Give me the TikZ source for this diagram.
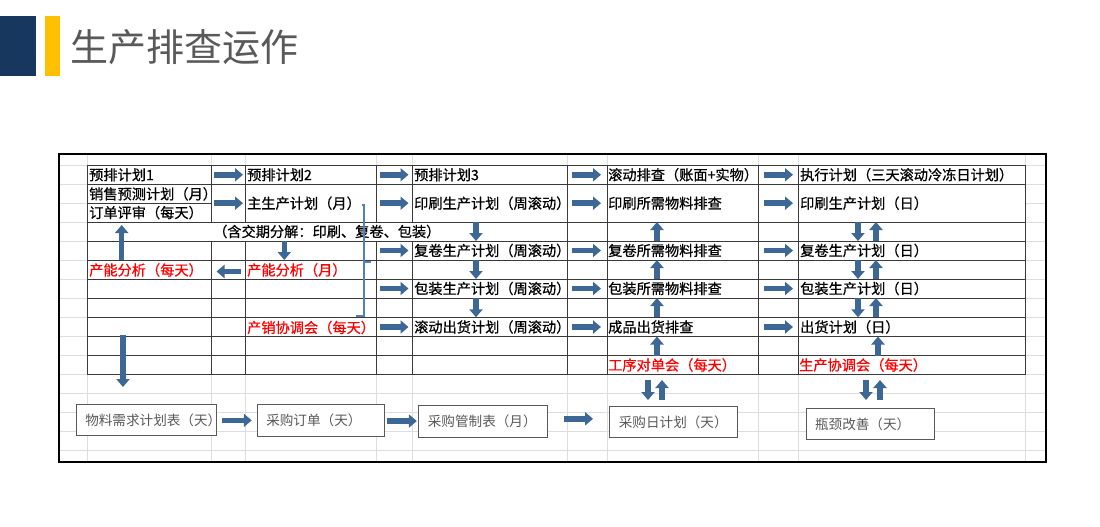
\documentclass[tikz,border=0pt]{standalone}
\usepackage{fontspec}
\setmainfont{Noto Sans CJK SC}
\newfontfamily\tabcjk[FakeBold=0.7]{Noto Sans CJK SC}
\usetikzlibrary{arrows.meta,calc}
\definecolor{navy}{HTML}{17375E}
\definecolor{gold}{HTML}{FFC000}
\definecolor{titlegray}{HTML}{595959}
\definecolor{ablue}{HTML}{3D6896}
\definecolor{bracketblue}{HTML}{4F81BD}
\definecolor{gridgray}{HTML}{DDDDDD}
\definecolor{linedark}{HTML}{3A3A3A}
\definecolor{boxgray}{HTML}{595959}
\newcommand\tabfont{\tabcjk\fontsize{14.2}{16}\selectfont}
\newcommand\boxfont{\fontsize{13.6}{15}\selectfont}
\tikzset{
  gridline/.style={draw=gridgray, line width=0.8pt},
  tabline/.style={draw=linedark, line width=1pt},
  cell/.style={anchor=west, inner sep=0pt, font=\tabfont, text=black},
  redcell/.style={cell, text=red},
  barrow/.style={draw=ablue, line width=5.5pt, -{Triangle[width=13pt,length=8pt]}},
  flowbox/.style={draw=boxgray, line width=1.1pt, fill=white, anchor=north west, inner xsep=9pt, inner ysep=0pt, align=left, font=\boxfont, text=boxgray},
  bracket/.style={draw=bracketblue, line width=2pt}
}
\begin{document}
\begin{tikzpicture}[x=1pt,y=-1pt]
\useasboundingbox (0,0) rectangle (1100,527);
\fill[white] (0,0) rectangle (1100,527);
% title
\fill[navy] (0,16) rectangle (36,76);
\fill[gold] (45,16) rectangle (60,76);
\node[anchor=west, inner sep=0pt, font=\fontsize{38}{42}\selectfont, text=titlegray] (title) at (70,47) {生产排查运作};
% named rows / columns
\foreach \n/\y in {r0/165,r1/184.5,r1b/203.3,r2/222,r3/241,r4/260,r5/279,r6/298,r7/317.3,r8/336.5,r9/355.5,r10/374.5}
  \coordinate (\n) at (0,\y);
\foreach \n/\x in {c0/87,c1/211,c2/245,c3/376,c4/412,c5/567,c6/607,c7/758,c8/798,c9/1025}
  \coordinate (\n) at (\x,0);
\foreach \n/\x in {g1/228.5,g2/394,g3/586.5,g4/778.5}
  \coordinate (\n) at (\x,0);
% light spreadsheet grid
\foreach \x in {87,211,245,376,412,567,607,758,798,1025}
  \draw[gridline] (\x,154) -- (\x,462);
\foreach \y in {165,184.5,203.3,222,241,260,279,298,317.3,336.5,355.5,374.5,393.5,412.5,431.5,450.5}
  \draw[gridline] (59,\y) -- (1046,\y);
\fill[white] (c0 |- r0) rectangle (c9 |- r10);
% table lines
\foreach \r in {r0,r1,r2,r3,r4,r5,r6,r7,r8,r9,r10}
  \draw[tabline] (c0 |- \r) -- (c9 |- \r);
\draw[tabline] (c0 |- r1b) -- (c1 |- r1b);
\foreach \c in {c0,c5,c6,c7,c8,c9}
  \draw[tabline] (\c |- r0) -- (\c |- r10);
\foreach \c in {c1,c2,c3,c4}{
  \draw[tabline] (\c |- r0) -- (\c |- r2);
  \draw[tabline] (\c |- r3) -- (\c |- r10);
}
% outer frame
\draw[black, line width=2.6pt] (59,154) rectangle (1046,462);
% cells
\node[cell] (p1) at (89,174.75) {预排计划1};
\node[cell] (p2) at (247,174.75) {预排计划2};
\node[cell] (p3) at (414,174.75) {预排计划3};
\node[cell] (gd) at (608,174.75) {滚动排查（账面+实物）};
\node[cell] (zx) at (800,174.75) {执行计划（三天滚动冷冻日计划）};
\node[cell] (xs) at (89,193.9) {销售预测计划（月）};
\node[cell] (dd) at (89,212.6) {订单评审（每天）};
\node[cell] (zsc) at (247,203.2) {主生产计划（月）};
\node[cell] (ys) at (414,203.2) {印刷生产计划（周滚动）};
\node[cell] (yswl) at (608,203.2) {印刷所需物料排查};
\node[cell] (ysr) at (800,203.2) {印刷生产计划（日）};
\node[cell] (hj) at (213,231.5) {（含交期分解：印刷、复卷、包装）};
\node[cell] (fj) at (414,250.5) {复卷生产计划（周滚动）};
\node[cell] (fjwl) at (608,250.5) {复卷所需物料排查};
\node[cell] (fjr) at (800,250.5) {复卷生产计划（日）};
\node[redcell] (cnd) at (89,270) {产能分析（每天）};
\node[redcell] (cnm) at (247,270) {产能分析（月）};
\node[cell] (bz) at (414,288.5) {包装生产计划（周滚动）};
\node[cell] (bzwl) at (608,288.5) {包装所需物料排查};
\node[cell] (bzr) at (800,288.5) {包装生产计划（日）};
\node[redcell] (cx) at (247,327.5) {产销协调会（每天）};
\node[cell] (gdch) at (414,327) {滚动出货计划（周滚动）};
\node[cell] (cpch) at (608,327) {成品出货排查};
\node[cell] (chr) at (800,327) {出货计划（日）};
\node[redcell] (gx) at (608,365) {工序对单会（每天）};
\node[redcell] (scxt) at (799,365) {生产协调会（每天）};
% bottom boxes
\node[flowbox, text width=122pt, minimum height=31pt] (wl) at (75.7,404) {物料需求计划表（天）};
\node[flowbox, text width=109.6pt, minimum height=31.7pt] (cg) at (256.7,404.3) {采购订单（天）};
\node[flowbox, text width=110.4pt, minimum height=31.7pt] (gz) at (418.3,405) {采购管制表（月）};
\node[flowbox, text width=109.4pt, minimum height=31.3pt] (rj) at (609.3,406) {采购日计划（天）};
\node[flowbox, text width=110pt, minimum height=31pt] (pj) at (805.5,408) {瓶颈改善（天）};
% horizontal block arrows
\newcommand\harrow[2]{\draw[barrow] ($(#1 |- #2.west)+(-14.5,0)$) -- ++(29,0);}
\harrow{g1}{p2}\harrow{g2}{p3}\harrow{g3}{gd}\harrow{g4}{zx}
\harrow{g1}{zsc}\harrow{g2}{ys}\harrow{g3}{yswl}\harrow{g4}{ysr}
\harrow{g2}{fj}\harrow{g3}{fjwl}\harrow{g4}{fjr}
\harrow{g2}{bz}\harrow{g3}{bzwl}\harrow{g4}{bzr}
\harrow{g2}{gdch}\harrow{g3}{cpch}\harrow{g4}{chr}
\draw[barrow] ($(g1 |- cnm.west)+(12,1.5)$) -- ++(-24,0);
% bottom row arrows
\draw[barrow] ($(wl.east)!0.5!(cg.west)+(-15,0)$) -- ++(30,0);
\draw[barrow] ($(cg.east)!0.5!(gz.west)+(-15,0)$) -- ++(30,0);
\draw[barrow] ($(gz.east)!0.5!(rj.west)+(-14.5,-3)$) -- ++(29,0);
% vertical block arrows
\coordinate (vx1) at (121.7,0);
\coordinate (vx2) at (284.3,0);
\coordinate (vx3) at (476,0);
\coordinate (vx4) at (657,0);
\coordinate (vx5) at (858,0);
\coordinate (vx6) at (876,0);
\coordinate (vx7) at (123,0);
\draw[barrow] (vx1 |- r4) -- ($(vx1 |- r2)+(0,3)$);
\draw[barrow] (vx2 |- r3) -- (vx2 |- r4);
\foreach \a/\b in {r2/r3,r4/r5,r6/r7}{
  \draw[barrow] (vx3 |- \a) -- (vx3 |- \b);
  \draw[barrow] (vx5 |- \a) -- (vx5 |- \b);
  \draw[barrow] (vx6 |- \b) -- (vx6 |- \a);
}
\foreach \a/\b in {r2/r3,r4/r5,r6/r7,r8/r9}
  \draw[barrow] (vx4 |- \b) -- (vx4 |- \a);
\draw[barrow] (878,355.5) -- (878,336.5);
\draw[barrow] ($(vx7 |- r8)+(0,-1.5)$) -- ($(vx7 |- wl.north)+(0,-17)$);
% arrows between table and bottom boxes
\draw[barrow] (648,380) -- (648,400);
\draw[barrow] (662,400) -- (662,380);
\draw[barrow] (866,380) -- (866,400);
\draw[barrow] (880,400) -- (880,380);
% bracket
\draw[bracket] ($(zsc.east)+(1,2)$) -| (363.5,316) -- (356,316);
\draw[bracket] (363.5,262) -- (370.5,262);
\end{tikzpicture}
\end{document}
